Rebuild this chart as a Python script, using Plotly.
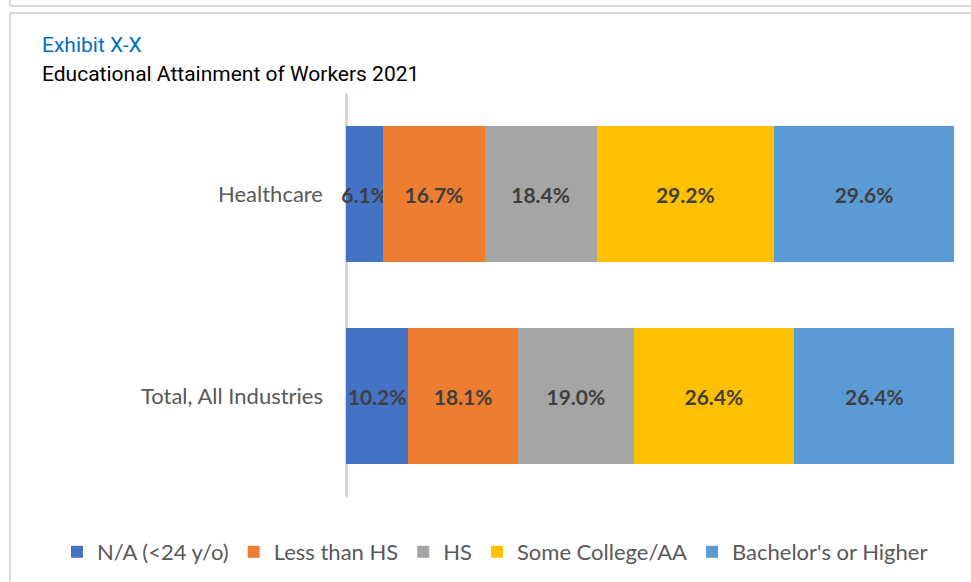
import plotly.graph_objects as go

categories = ["Total, All Industries", "Healthcare"]
series_names = ["N/A (<24 y/o)", "Less than HS", "HS", "Some College/AA", "Bachelor's or Higher"]
values = {
    "N/A (<24 y/o)": [10.2, 6.1],
    "Less than HS": [18.1, 16.7],
    "HS": [19.0, 18.4],
    "Some College/AA": [26.4, 29.2],
    "Bachelor's or Higher": [26.4, 29.6],
}
colors = ["#4472C4", "#ED7D31", "#A5A5A5", "#FFC000", "#5B9BD5"]

W, H = 971, 582
L, R, T, B = 340, 17, 93, 85
pw, ph = W - L - R, H - T - B

def px(x):
    return (x - L) / pw

def py(y):
    return (H - B - y) / ph

fig = go.Figure()
for name, col in zip(series_names, colors):
    vals = values[name]
    fig.add_trace(go.Bar(
        y=categories, x=vals, name=name, orientation="h",
        marker=dict(color=col, line=dict(width=0)),
        text=[f"{v:.1f}%" for v in vals],
        textposition="inside", insidetextanchor="middle",
        constraintext="none", textangle=0,
        textfont=dict(family="Lato", size=21, color="#3F3F3F", weight="bold"),
    ))

line_col = "#D9D9D9"
shapes = [
    dict(type="line", xref="paper", yref="paper", x0=px(10), x1=px(971), y0=py(6), y1=py(6),
         line=dict(color=line_col, width=2)),
    dict(type="line", xref="paper", yref="paper", x0=px(10), x1=px(10), y0=py(0), y1=py(6),
         line=dict(color=line_col, width=2)),
    dict(type="line", xref="paper", yref="paper", x0=px(10), x1=px(971), y0=py(13), y1=py(13),
         line=dict(color=line_col, width=2)),
    dict(type="line", xref="paper", yref="paper", x0=px(10), x1=px(10), y0=py(13), y1=py(582),
         line=dict(color=line_col, width=2)),
]

annotations = [
    dict(text="Exhibit X-X", xref="paper", yref="paper", x=px(40), y=py(45),
         xanchor="left", yanchor="middle", showarrow=False,
         font=dict(family="Roboto", size=21, color="#0070C0")),
    dict(text="Educational Attainment of Workers 2021", xref="paper", yref="paper", x=px(40), y=py(74),
         xanchor="left", yanchor="middle", showarrow=False,
         font=dict(family="Roboto", size=21, color="#000000")),
]

fig.update_layout(
    width=W, height=H,
    margin=dict(l=L, r=R, t=T, b=B, autoexpand=False),
    barmode="stack", bargap=0.33,
    plot_bgcolor="white", paper_bgcolor="white",
    showlegend=True,
    legend=dict(orientation="h", x=px(57), xanchor="left", y=py(552), yanchor="middle",
                font=dict(family="Lato", size=22, color="#595959"),
                traceorder="normal", itemwidth=30),
    xaxis=dict(range=[-1, 100], fixedrange=True, showticklabels=False, ticks="",
               showgrid=False, showline=False,
               zeroline=True, zerolinecolor=line_col, zerolinewidth=2.5),
    yaxis=dict(showline=False, ticks="",
               tickfont=dict(family="Lato", size=22, color="#595959"),
               ticklabelstandoff=16, showgrid=False, zeroline=False),
    shapes=shapes, annotations=annotations,
)

fig.write_html("out.html")
